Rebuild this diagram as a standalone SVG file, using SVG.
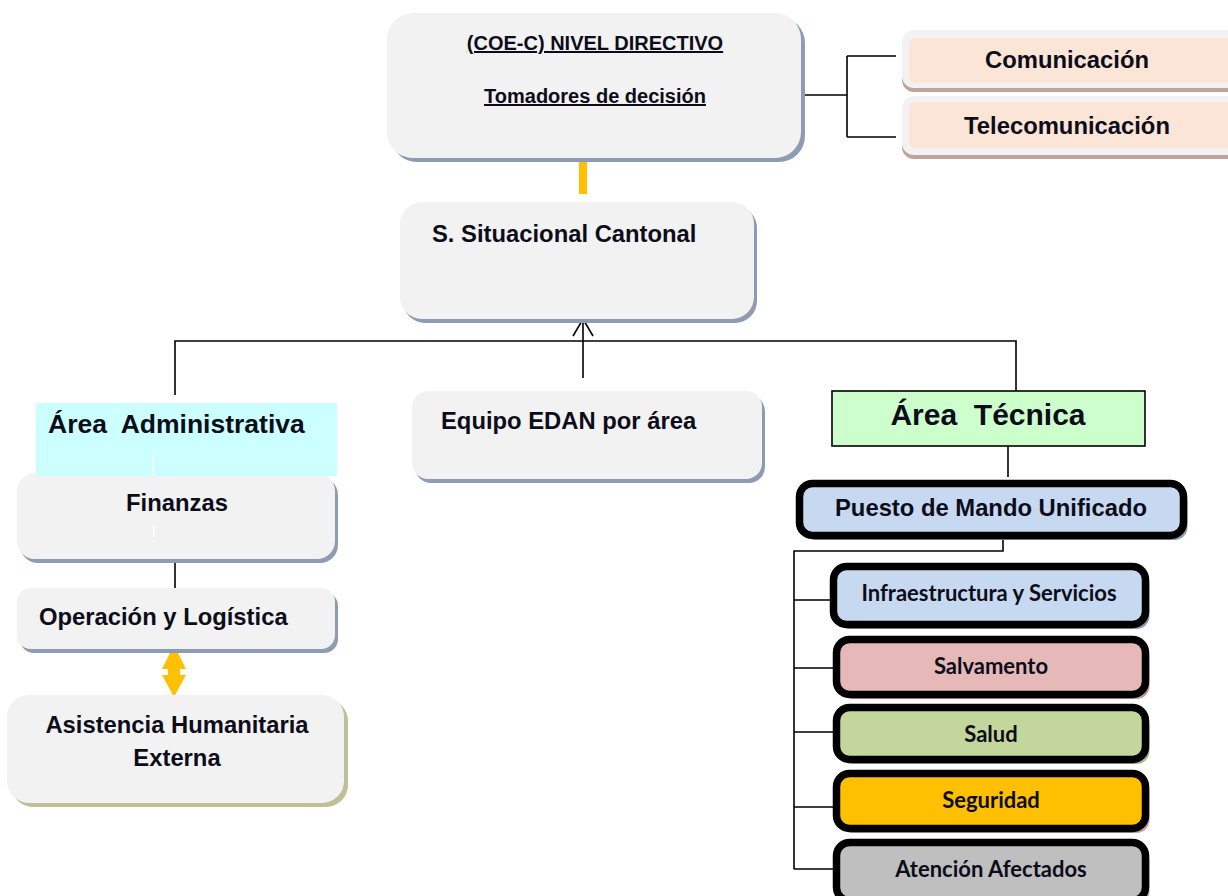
<svg xmlns="http://www.w3.org/2000/svg" width="1228" height="896" viewBox="0 0 1228 896">
<style>
.t{font-family:"Liberation Sans",Arial,sans-serif;font-weight:bold;fill:#0d0d1a;white-space:pre}
.c{font-family:Lato,"Open Sans",sans-serif;font-weight:bold;fill:#0d0d1a;font-size:22px}
.box{fill:#f2f2f2}
.sh{fill:#8e9cb3}
.thick{stroke:#000;stroke-width:7.5}
.ln{stroke:#000;stroke-width:1.6;fill:none}
</style>
<rect width="1228" height="896" fill="#fff"/>

<g id="connectors">
  <rect x="579" y="152" width="8" height="42" fill="#ffc000"/>
  <path class="ln" d="M798 95H847M847 56V137M847 56H896M847 137H896"/>
  <path class="ln" d="M175 395V341H1016V392"/>
  <path class="ln" d="M583 378V320" stroke-width="2.2"/>
  <path class="ln" d="M573 336L583 319L593 336" stroke-width="2.2"/>
  <path class="ln" d="M175 562V591"/>
  <path d="M174 645L186 669H180V675H186L174 697L162 675H168V669H162Z" fill="#ffc000"/>
  <path class="ln" d="M1008 446V477"/>
  <path class="ln" d="M1003 540V551H794V869M794 600H830M794 668H833M794 732H833M794 807H833M794 869H833"/>
</g>

<g id="coe">
  <rect x="391" y="17" width="414" height="145" rx="26" class="sh"/>
  <rect x="387" y="13" width="414" height="145" rx="26" class="box"/>
  <text x="595" y="50" text-anchor="middle" class="t" font-size="20" text-decoration="underline">(COE-C) NIVEL DIRECTIVO</text>
  <text x="595" y="103" text-anchor="middle" class="t" font-size="20" text-decoration="underline">Tomadores de decisión</text>
</g>

<g id="comunicacion">
  <rect x="902" y="34" width="340" height="58" rx="12" fill="#c2a29d"/>
  <rect x="902" y="30" width="340" height="58" rx="12" fill="#f2f2f2"/>
  <rect x="909" y="38" width="330" height="45" rx="6" fill="#fbe5d6"/>
  <text x="1067" y="68" text-anchor="middle" class="t" font-size="23.8">Comunicación</text>
</g>
<g id="telecomunicacion">
  <rect x="902" y="100" width="340" height="59" rx="12" fill="#c2a29d"/>
  <rect x="902" y="96" width="340" height="59" rx="12" fill="#f2f2f2"/>
  <rect x="909" y="102" width="330" height="46" rx="6" fill="#fbe5d6"/>
  <text x="1067" y="134" text-anchor="middle" class="t" font-size="23.8">Telecomunicación</text>
</g>

<g id="situacional">
  <rect x="403" y="206" width="354" height="117" rx="22" class="sh"/>
  <rect x="400" y="202" width="354" height="117" rx="22" class="box"/>
  <text x="432" y="242" class="t" font-size="23.8">S. Situacional Cantonal</text>
</g>

<g id="edan">
  <rect x="415" y="395" width="350" height="88" rx="16" class="sh"/>
  <rect x="412" y="391" width="350" height="88" rx="16" class="box"/>
  <text x="441" y="429" class="t" font-size="23.8">Equipo EDAN por área</text>
</g>

<g id="finanzas">
  <rect x="20" y="477" width="318" height="86" rx="18" class="sh"/>
  <rect x="17" y="473" width="318" height="86" rx="18" class="box"/>
  <text x="177" y="511" text-anchor="middle" class="t" font-size="23.8">Finanzas</text>
  <line x1="154" y1="525" x2="154" y2="537" stroke="#fff" stroke-width="1.5"/>
</g>

<g id="area-administrativa">
  <rect x="36" y="403" width="301" height="73" fill="#ccffff"/>
  <text x="48" y="433" class="t" font-size="26.5">Área  Administrativa</text>
  <line x1="153" y1="455" x2="153" y2="476" stroke="#fff" stroke-width="1.5"/>
</g>

<g id="operacion">
  <rect x="20" y="592" width="318" height="61" rx="14" class="sh"/>
  <rect x="17" y="588" width="318" height="61" rx="14" class="box"/>
  <text x="39" y="625" class="t" font-size="23.8">Operación y Logística</text>
</g>

<g id="asistencia">
  <rect x="11" y="699" width="337" height="108" rx="22" fill="#bcc197"/>
  <rect x="7" y="695" width="337" height="108" rx="22" class="box"/>
  <text x="177" y="733" text-anchor="middle" class="t" font-size="23.8">Asistencia Humanitaria</text>
  <text x="177" y="766" text-anchor="middle" class="t" font-size="23.8">Externa</text>
</g>

<g id="area-tecnica">
  <rect x="832" y="391" width="313" height="55" fill="#ccffcc" stroke="#000" stroke-width="1.6"/>
  <text x="988" y="425" text-anchor="middle" class="t" font-size="30">Área  Técnica</text>
</g>

<g id="puesto">
  <rect x="803.5" y="488" width="384" height="52" rx="13" fill="#8e9cb3"/>
  <rect x="799.5" y="483.5" width="384" height="52" rx="13" fill="#c6d9f1" class="thick"/>
  <text x="991" y="516" text-anchor="middle" class="t" font-size="23.8">Puesto de Mando Unificado</text>
</g>

<g id="infraestructura">
  <rect x="837.5" y="571" width="312" height="58" rx="13" fill="#8e9cb3"/>
  <rect x="833.5" y="566.5" width="312" height="58" rx="13" fill="#c6d9f1" class="thick"/>
  <text x="989" y="601" text-anchor="middle" class="c">Infraestructura y Servicios</text>
</g>

<g id="salvamento">
  <rect x="840.5" y="644" width="309" height="55" rx="13" fill="#c59a98"/>
  <rect x="836.5" y="639.5" width="309" height="55" rx="13" fill="#e6b9b8" class="thick"/>
  <text x="991" y="674" text-anchor="middle" class="c">Salvamento</text>
</g>

<g id="salud">
  <rect x="840.5" y="712" width="309" height="52" rx="13" fill="#a7b48d"/>
  <rect x="836.5" y="707.5" width="309" height="52" rx="13" fill="#c3d69b" class="thick"/>
  <text x="991" y="742" text-anchor="middle" class="c">Salud</text>
</g>

<g id="seguridad">
  <rect x="840.5" y="778" width="309" height="55" rx="13" fill="#c9a3a3"/>
  <rect x="836.5" y="773.5" width="309" height="55" rx="13" fill="#ffc000" class="thick"/>
  <text x="991" y="808" text-anchor="middle" class="c">Seguridad</text>
</g>

<g id="atencion">
  <rect x="840.5" y="847" width="309" height="58" rx="13" fill="#b2bb98"/>
  <rect x="836.5" y="842.5" width="309" height="58" rx="13" fill="#bfbfbf" class="thick"/>
  <text x="991" y="877" text-anchor="middle" class="c">Atención Afectados</text>
</g>
</svg>
